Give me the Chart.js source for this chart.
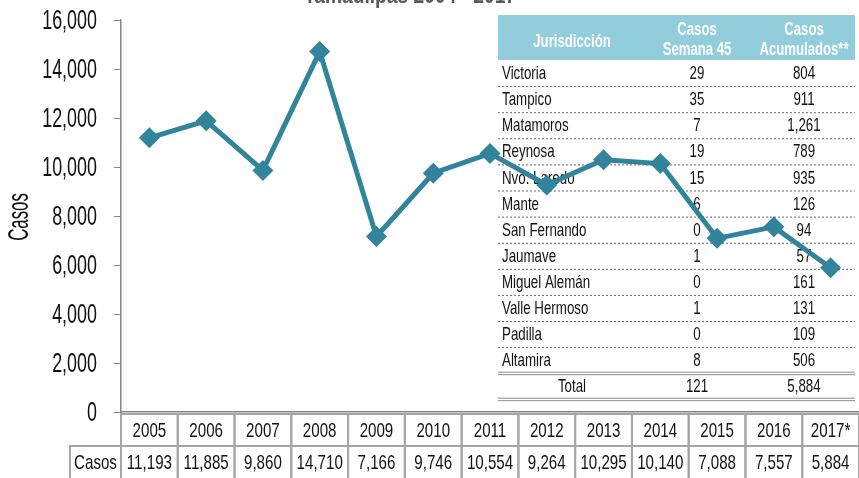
<!DOCTYPE html>
<html>
<head>
<meta charset="utf-8">
<script src="https://cdn.jsdelivr.net/npm/chart.js@4"></script>
<style>
  html, body { margin: 0; padding: 0; background: #fff; }
</style>
</head>
<body>
<canvas id="chart" width="859" height="478"></canvas>
<script>
const BASE = "'Liberation Sans', Arial, sans-serif";

// yearly cases
const years = ['2005', '2006', '2007', '2008', '2009', '2010', '2011', '2012', '2013', '2014', '2015', '2016', '2017*'];
const cases = [11193, 11885, 9860, 14710, 7166, 9746, 10554, 9264, 10295, 10140, 7088, 7557, 5884];

// jurisdiction table
const jurisdictions = ['Victoria', 'Tampico', 'Matamoros', 'Reynosa', 'Nvo. Laredo', 'Mante', 'San Fernando', 'Jaumave', 'Miguel Alemán', 'Valle Hermoso', 'Padilla', 'Altamira'];
const week45 = [29, 35, 7, 19, 15, 6, 0, 1, 0, 1, 0, 8];
const accumulated = [804, 911, 1261, 789, 935, 126, 94, 57, 161, 131, 109, 506];
const totals = [121, 5884];

const fmt = v => v.toLocaleString('en-US');

// narrow text: the original face is very condensed, so squeeze a normal one
function txt(ctx, s, x, y, size, sx, align, weight, color) {
    ctx.save();
    ctx.font = (weight || 'normal') + ' ' + size + 'px ' + BASE;
    ctx.fillStyle = color || '#111';
    ctx.textAlign = align || 'center';
    ctx.textBaseline = 'middle';
    ctx.translate(x, y);
    ctx.scale(sx, 1);
    ctx.fillText(s, 0, 0);
    ctx.restore();
}

// jurisdiction box, drawn under the line
const juris = {
    id: 'juris',
    beforeDatasetsDraw(chart) {
        const ctx = chart.ctx;
        const L = 498, R = 855, hTop = 15, hBot = 60, rh = 26.1;
        const c1 = 697, c2 = 804;
        ctx.save();
        ctx.fillStyle = '#92CDDC';
        ctx.fillRect(L, hTop, R - L, hBot - hTop);
        txt(ctx, 'Jurisdicción', 572, 42, 18, 0.73, 'center', 'bold', '#fff');
        txt(ctx, 'Casos', c1, 30, 18, 0.73, 'center', 'bold', '#fff');
        txt(ctx, 'Semana 45', c1, 50, 18, 0.73, 'center', 'bold', '#fff');
        txt(ctx, 'Casos', c2, 30, 18, 0.73, 'center', 'bold', '#fff');
        txt(ctx, 'Acumulados**', c2, 50, 18, 0.73, 'center', 'bold', '#fff');

        ctx.strokeStyle = '#666';
        ctx.lineWidth = 1;
        ctx.setLineDash([2, 2]);
        jurisdictions.forEach((j, i) => {
            const y0 = hBot + i * rh;
            const cy = y0 + rh / 2 + 1;
            txt(ctx, j, 502, cy, 18.5, 0.72, 'left');
            txt(ctx, String(week45[i]), c1, cy, 18.5, 0.72, 'center');
            txt(ctx, fmt(accumulated[i]), c2, cy, 18.5, 0.72, 'center');
            if (i < jurisdictions.length - 1) {
                ctx.beginPath();
                ctx.moveTo(L, y0 + rh + 0.5);
                ctx.lineTo(R, y0 + rh + 0.5);
                ctx.stroke();
            }
        });
        ctx.setLineDash([]);
        const tTop = hBot + jurisdictions.length * rh;
        const tBot = tTop + 26;
        ctx.strokeStyle = '#8c8c8c';
        [tTop - 1, tTop + 1.5, tBot - 1, tBot + 1.5].forEach(y => {
            ctx.beginPath();
            ctx.moveTo(L, y);
            ctx.lineTo(R, y);
            ctx.stroke();
        });
        const ty = (tTop + tBot) / 2 + 1;
        txt(ctx, 'Total', 572, ty, 18.5, 0.72, 'center');
        txt(ctx, String(totals[0]), c1, ty, 18.5, 0.72, 'center');
        txt(ctx, fmt(totals[1]), c2, ty, 18.5, 0.72, 'center');
        ctx.restore();
    }
};

// y labels, y title, data table under the x axis, cut-off title
const extras = {
    id: 'extras',
    afterDraw(chart) {
        const ctx = chart.ctx;
        const xs = chart.scales.x;
        const ys = chart.scales.y;

        ys.ticks.forEach(t => {
            txt(ctx, fmt(t.value), 97, ys.getPixelForValue(t.value) + 1, 28, 0.64, 'right');
        });

        ctx.save();
        ctx.translate(20, 217);
        ctx.rotate(-Math.PI / 2);
        txt(ctx, 'Casos', 0, 0, 30, 0.56, 'center');
        ctx.restore();

        const w = xs.width / years.length;
        const top = 414, mid = 446, bot = 478;
        ctx.save();
        ctx.strokeStyle = '#A6A6A6';
        ctx.lineWidth = 2;
        years.forEach((y, i) => {
            const cx = xs.getPixelForTick(i);
            ctx.strokeRect(cx - w / 2, top, w, mid - top);
            ctx.strokeRect(cx - w / 2, mid, w, bot - mid + 4);
            txt(ctx, y, cx, (top + mid) / 2 + 1, 21, 0.72, 'center');
            txt(ctx, fmt(cases[i]), cx, (mid + bot) / 2 + 1, 21, 0.72, 'center');
        });
        ctx.strokeRect(70, mid, xs.left - 70, bot - mid + 4);
        txt(ctx, 'Casos', (70 + xs.left) / 2, (mid + bot) / 2 + 1, 21, 0.72, 'center');
        ctx.restore();

        txt(ctx, 'Tamaulipas 2004 - 2017', 410, -4, 24, 0.8, 'center', 'bold', '#595959');
    }
};

new Chart(document.getElementById('chart'), {
    type: 'line',
    data: {
        labels: years,
        datasets: [{
            label: 'Casos',
            data: cases,
            borderColor: '#31849B',
            backgroundColor: '#31849B',
            borderWidth: 5,
            pointStyle: 'rectRot',
            pointRadius: 10.5,
            pointBackgroundColor: '#31849B',
            pointBorderWidth: 0,
            tension: 0
        }]
    },
    options: {
        responsive: false,
        animation: false,
        layout: { autoPadding: false, padding: { top: 20, left: 0, right: 0, bottom: 0 } },
        plugins: { legend: { display: false }, tooltip: { enabled: false } },
        scales: {
            x: {
                offset: true,
                grid: { display: false },
                border: { display: true, color: '#868686', width: 1.5 },
                ticks: { display: false },
                afterFit: s => { s.height = 66; }
            },
            y: {
                min: 0, max: 16000,
                ticks: { stepSize: 2000, display: false },
                grid: { drawOnChartArea: false, drawTicks: true, tickLength: 7, color: '#868686' },
                border: { color: '#868686', width: 1.5 },
                afterFit: s => { s.width = 121; }
            }
        }
    },
    plugins: [juris, extras]
});
</script>
</body>
</html>
